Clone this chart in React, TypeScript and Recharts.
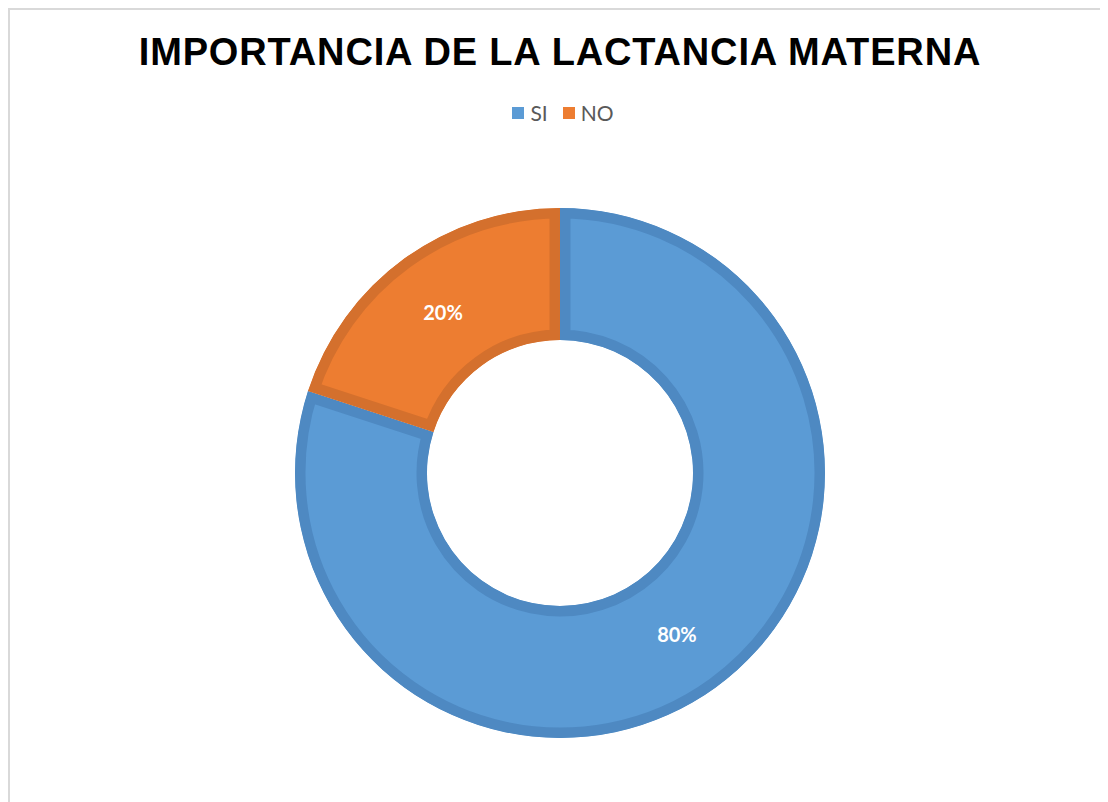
import React from "react";
import { PieChart, Pie, Cell, Sector, Legend } from "recharts";

const categories = ["SI", "NO"];
const values = [80, 20];
const fills = ["#5B9BD5", "#ED7D31"];
const strokes = ["#4E89C2", "#D4702D"];
const title = "IMPORTANCIA DE LA LACTANCIA MATERNA";

const data = categories.map((name, i) => ({ name, value: values[i] }));

const RADIAN = Math.PI / 180;

const renderShape = (props: any) => {
  const { cx, cy, innerRadius, outerRadius, startAngle, endAngle, fill, stroke, index, name } = props;
  const id = `clip-sector-${name ?? index}`;
  return (
    <g>
      <defs>
        <clipPath id={id}>
          <Sector cx={cx} cy={cy} innerRadius={innerRadius} outerRadius={outerRadius} startAngle={startAngle} endAngle={endAngle} />
        </clipPath>
      </defs>
      <Sector
        cx={cx}
        cy={cy}
        innerRadius={innerRadius}
        outerRadius={outerRadius}
        startAngle={startAngle}
        endAngle={endAngle}
        fill={fill}
        stroke={stroke}
        strokeWidth={21}
        clipPath={`url(#${id})`}
      />
    </g>
  );
};

const renderLabel = (props: any) => {
  const { cx, cy, midAngle, innerRadius, outerRadius, value } = props;
  const r = (innerRadius + outerRadius) / 2;
  const x = cx + r * Math.cos(-midAngle * RADIAN);
  const y = cy + r * Math.sin(-midAngle * RADIAN);
  return (
    <text
      x={x}
      y={y}
      fill="#FFFFFF"
      textAnchor="middle"
      dominantBaseline="central"
      fontFamily="Lato, 'Open Sans', sans-serif"
      fontWeight={700}
      fontSize={20}
    >
      {`${value}%`}
    </text>
  );
};

const renderLegend = () => (
  <div style={{ display: "flex", justifyContent: "center", alignItems: "center", fontFamily: "Lato, 'Open Sans', sans-serif", fontSize: 21, color: "#595959" }}>
    {categories.map((c, i) => (
      <div key={c} style={{ display: "flex", alignItems: "center", marginRight: i === 0 ? 15 : 0 }}>
        <span style={{ display: "inline-block", width: 12, height: 12, background: fills[i], marginRight: 6 }} />
        <span>{c}</span>
      </div>
    ))}
  </div>
);

export default function App() {
  return (
    <div
      style={{
        position: "relative",
        width: 1100,
        height: 794,
        borderTop: "2px solid #D9D9D9",
        borderLeft: "2px solid #D9D9D9",
        boxSizing: "border-box",
        background: "#FFFFFF",
      }}
    >
      <div
        style={{
          position: "absolute",
          left: 0,
          top: 23,
          width: 1100,
          textAlign: "center",
          fontFamily: "'Liberation Sans', Arial, sans-serif",
          fontWeight: 700,
          fontSize: 38,
          lineHeight: "38px",
          letterSpacing: 0.85,
          color: "#000000",
        }}
      >
        {title}
      </div>
      <div style={{ position: "absolute", left: -2, top: -2 }}>
        <PieChart width={1100} height={794} margin={{ top: 0, right: 0, bottom: 0, left: 0 }}>
          <Legend verticalAlign="top" content={renderLegend} wrapperStyle={{ top: 92, left: 5, width: 1100 }} />
          <Pie
            data={data}
            dataKey="value"
            nameKey="name"
            cx={552}
            cy={440}
            startAngle={90}
            endAngle={-270}
            innerRadius={133}
            outerRadius={265}
            isAnimationActive={false}
            label={renderLabel}
            labelLine={false}
            shape={renderShape}
            activeShape={renderShape}
            inactiveShape={renderShape}
          >
            {data.map((d, i) => (
              <Cell key={d.name} fill={fills[i]} stroke={strokes[i]} />
            ))}
          </Pie>
        </PieChart>
      </div>
    </div>
  );
}
